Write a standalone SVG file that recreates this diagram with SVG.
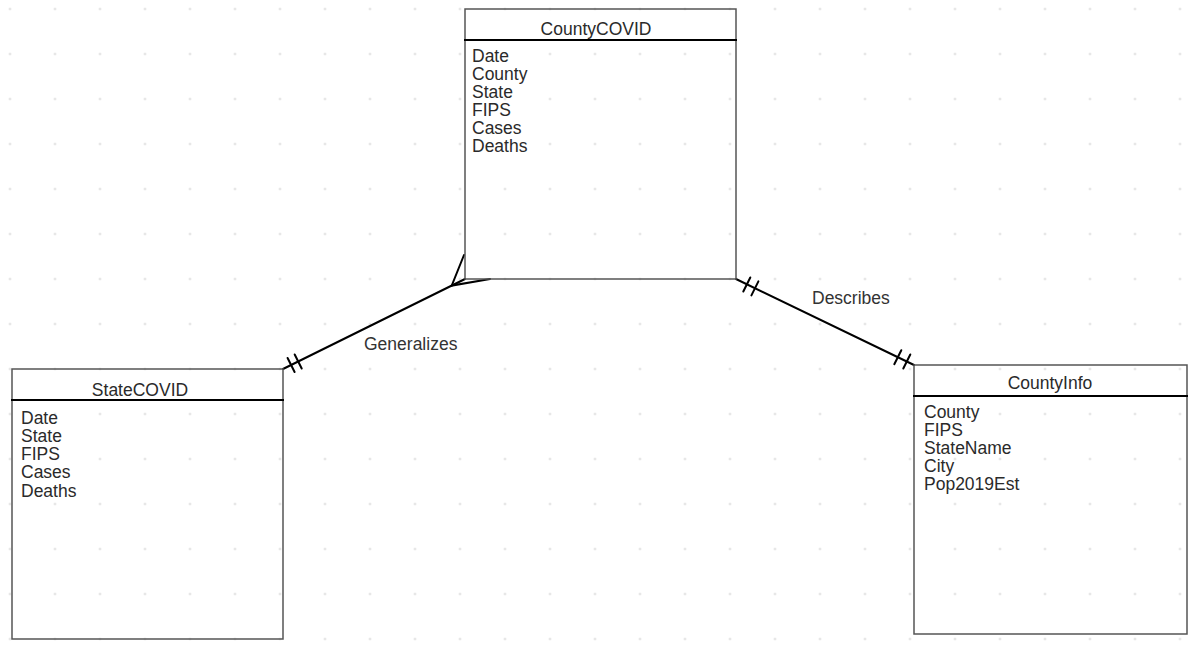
<svg xmlns="http://www.w3.org/2000/svg" width="1198" height="648" viewBox="0 0 1198 648">
  <style>
    .entity { fill: none; stroke: #555; stroke-width: 1.5; }
    .divider { stroke: #000; stroke-width: 2; }
    .title { font-family: "Liberation Sans", Arial, sans-serif; font-size: 17.5px; fill: #2a2a2a; text-anchor: middle; }
    .field { font-family: "Liberation Sans", Arial, sans-serif; font-size: 17.5px; fill: #2a2a2a; }
    .edge { fill: none; stroke: #000; stroke-width: 2; stroke-linecap: round; }
    .label { font-family: "Liberation Sans", Arial, sans-serif; font-size: 17.5px; fill: #333; }
  </style>
  <defs>
    <pattern id="grid" patternUnits="userSpaceOnUse" x="-12.5" y="-13.5" width="45" height="45">
      <circle cx="22.5" cy="22.5" r="1.1" fill="#d0d0d0"/>
    </pattern>
  </defs>

  <rect x="0" y="0" width="1198" height="648" fill="#fff"/>
  <rect x="0" y="0" width="1198" height="648" fill="url(#grid)"/>

  <!-- relationships -->
  <g id="connectors">
    <!-- Generalizes: StateCOVID (one) to CountyCOVID (many) -->
    <path class="edge" d="M283,369 L465,279"/>
    <path class="edge" d="M287.6,358.0 L294.6,372.0 M294.7,354.5 L301.7,368.5"/>
    <path class="edge" d="M464,255 L451.7,285.6 L490,279"/>
    <text class="label" x="364" y="350">Generalizes</text>

    <!-- Describes: CountyCOVID (one) to CountyInfo (one) -->
    <path class="edge" d="M750.3,277.5 L743.3,291.5 M758.4,281.4 L751.4,295.4"/>
    <path class="edge" d="M736,279 L914,365"/>
    <path class="edge" d="M910.3,354.5 L903.3,368.5 M901.3,350.2 L894.3,364.2"/>
    <text class="label" x="812" y="304">Describes</text>
  </g>

  <g id="CountyCOVID">
    <rect class="entity" x="465" y="9" width="271" height="270"/>
    <line class="divider" x1="464" y1="40" x2="737" y2="40"/>
    <text class="title" x="596" y="35">CountyCOVID</text>
    <text class="field" x="472" y="62">Date</text>
    <text class="field" x="472" y="80">County</text>
    <text class="field" x="472" y="98">State</text>
    <text class="field" x="472" y="116">FIPS</text>
    <text class="field" x="472" y="134">Cases</text>
    <text class="field" x="472" y="152">Deaths</text>
  </g>

  <g id="StateCOVID">
    <rect class="entity" x="12" y="369" width="271" height="270"/>
    <line class="divider" x1="11" y1="400" x2="284" y2="400"/>
    <text class="title" x="140" y="396">StateCOVID</text>
    <text class="field" x="21" y="424">Date</text>
    <text class="field" x="21" y="442">State</text>
    <text class="field" x="21" y="460">FIPS</text>
    <text class="field" x="21" y="478">Cases</text>
    <text class="field" x="21" y="497">Deaths</text>
  </g>

  <g id="CountyInfo">
    <rect class="entity" x="914" y="365" width="273" height="269"/>
    <line class="divider" x1="913" y1="396" x2="1188" y2="396"/>
    <text class="title" x="1050" y="389">CountyInfo</text>
    <text class="field" x="924" y="418">County</text>
    <text class="field" x="924" y="436">FIPS</text>
    <text class="field" x="924" y="454">StateName</text>
    <text class="field" x="924" y="472">City</text>
    <text class="field" x="924" y="490">Pop2019Est</text>
  </g>
</svg>
